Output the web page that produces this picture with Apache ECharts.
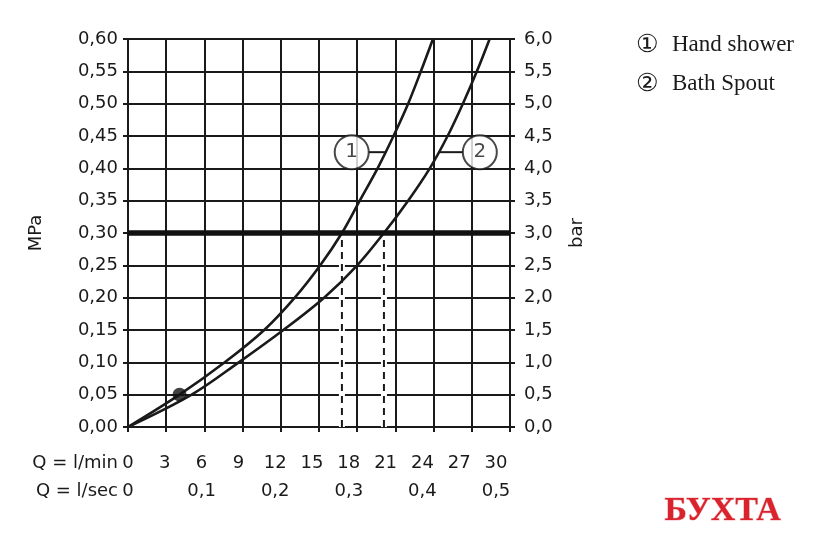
<!DOCTYPE html>
<html>
<head>
<meta charset="utf-8">
<script src="https://cdn.jsdelivr.net/npm/echarts@6/dist/echarts.min.js"></script>
<style>html,body{margin:0;padding:0;background:#fff}#c{width:840px;height:546px}</style>
</head>
<body>
<div id="c"></div>
<script>
// ---- data ----
const pressureMPa = [0, 0.05, 0.10, 0.15, 0.20, 0.25, 0.30, 0.35, 0.40, 0.45, 0.50, 0.55, 0.60];
const handShowerQ = [0, 4.05, 7.6, 10.7, 13.1, 15.1, 16.8, 18.2, 19.6, 20.85, 22.0, 23.0, 23.95];
const bathSpoutQ  = [0, 5.0, 8.7, 12.2, 15.4, 18.0, 20.1, 22.0, 23.7, 25.1, 26.3, 27.4, 28.4];
const operatingPressure = 0.30;
const markedPoint = [4.05, 0.05];
const seriesNames = ['Hand shower', 'Bath Spout'];
const seriesNumbers = ['1', '2'];
const flowLminRange = [0, 30, 3];
const flowLsecRange = [0, 0.5, 0.1];
const mpaRange = [0, 0.6, 0.05];
const barRange = [0, 6, 0.5];

// annotation placement (data coordinates)
const tagPos = [[17.57, 0.425], [27.63, 0.425]];
const leaderLines = [[[18.9, 0.425], [20.2, 0.425]], [[24.4, 0.425], [26.3, 0.425]]];

const FONT = 'DejaVu Sans';
const INK = '#1a1a1a';
const comma = (v, d) => v.toFixed(d).replace('.', ',');

const chart = echarts.init(document.getElementById('c'), null, {renderer: 'canvas'});

const curve = (qs) => qs.map((q, i) => [q, pressureMPa[i]]);
const opIdx = pressureMPa.indexOf(operatingPressure);

const series = [
  {
    type: 'line', name: seriesNames[0], data: curve(handShowerQ), smooth: 0.35,
    showSymbol: false, lineStyle: {color: INK, width: 2.6}, z: 5, silent: true
  },
  {
    type: 'line', name: seriesNames[1], data: curve(bathSpoutQ), smooth: 0.35,
    showSymbol: false, lineStyle: {color: INK, width: 2.6}, z: 5, silent: true
  },
  {
    type: 'line', data: [[flowLminRange[0], operatingPressure], [flowLminRange[1], operatingPressure]],
    showSymbol: false, lineStyle: {color: '#111', width: 5.5}, z: 6, silent: true
  },
  {
    type: 'line', data: [[handShowerQ[opIdx], 0], [handShowerQ[opIdx], operatingPressure]],
    showSymbol: false, lineStyle: {color: '#fff', width: 6}, z: 3, silent: true
  },
  {
    type: 'line', data: [[handShowerQ[opIdx], 0], [handShowerQ[opIdx], operatingPressure]],
    showSymbol: false, lineStyle: {color: INK, width: 2, type: [7, 5]}, z: 4, silent: true
  },
  {
    type: 'line', data: [[bathSpoutQ[opIdx], 0], [bathSpoutQ[opIdx], operatingPressure]],
    showSymbol: false, lineStyle: {color: '#fff', width: 6}, z: 3, silent: true
  },
  {
    type: 'line', data: [[bathSpoutQ[opIdx], 0], [bathSpoutQ[opIdx], operatingPressure]],
    showSymbol: false, lineStyle: {color: INK, width: 2, type: [7, 5]}, z: 4, silent: true
  },
  {
    type: 'scatter', data: [markedPoint], symbolSize: 14,
    itemStyle: {color: '#111'}, z: 7, silent: true
  }
];
leaderLines.forEach(l => series.push({
  type: 'line', data: l, showSymbol: false, lineStyle: {color: INK, width: 2}, z: 7, silent: true
}));
series.push({
  type: 'scatter', data: tagPos.map((p, i) => ({value: p, name: seriesNumbers[i]})),
  symbolSize: 34, z: 8, silent: true,
  itemStyle: {color: '#fff', borderColor: INK, borderWidth: 2},
  label: {show: true, position: 'inside', formatter: p => p.name, fontFamily: FONT, fontSize: 20, color: INK}
});

const hiddenAxisCommon = {
  axisLine: {show: false}, axisTick: {show: false}, splitLine: {show: false},
};

const option = {
  animation: false,
  backgroundColor: '#fff',
  grid: [
    {left: 128, top: 39, width: 382, height: 388},
    {left: 128, top: 453, width: 368, height: 1}
  ],
  xAxis: [
    {
      type: 'value', gridIndex: 0, min: flowLminRange[0], max: flowLminRange[1], interval: flowLminRange[2],
      axisLine: {show: true, lineStyle: {color: INK, width: 2}},
      axisTick: {show: true, length: 5, lineStyle: {color: INK, width: 2}},
      axisLabel: {show: false},
      splitLine: {show: true, lineStyle: {color: INK, width: 2}}
    },
    Object.assign({
      type: 'value', gridIndex: 1, position: 'bottom', min: flowLminRange[0], max: flowLminRange[1], interval: flowLminRange[2],
      axisLabel: {margin: 0, fontFamily: FONT, fontSize: 18, color: INK, formatter: v => String(v)},
      name: 'Q = l/min', nameLocation: 'start', nameGap: 10,
      nameTextStyle: {fontFamily: FONT, fontSize: 18, color: INK, align: 'right', verticalAlign: 'top'}
    }, hiddenAxisCommon),
    Object.assign({
      type: 'value', gridIndex: 1, position: 'bottom', offset: 28, min: flowLsecRange[0], max: flowLsecRange[1], interval: flowLsecRange[2],
      axisLabel: {margin: 0, fontFamily: FONT, fontSize: 18, color: INK, formatter: v => v === 0 ? '0' : comma(v, 1)},
      name: 'Q = l/sec', nameLocation: 'start', nameGap: 10,
      nameTextStyle: {fontFamily: FONT, fontSize: 18, color: INK, align: 'right', verticalAlign: 'top'}
    }, hiddenAxisCommon)
  ],
  yAxis: [
    {
      type: 'value', gridIndex: 0, position: 'left', min: mpaRange[0], max: mpaRange[1], interval: mpaRange[2],
      axisLine: {show: true, lineStyle: {color: INK, width: 2}},
      axisTick: {show: true, length: 5, lineStyle: {color: INK, width: 2}},
      axisLabel: {margin: 10, fontFamily: FONT, fontSize: 18, color: INK, formatter: v => comma(v, 2)},
      splitLine: {show: true, lineStyle: {color: INK, width: 2}},
      name: 'MPa', nameLocation: 'middle', nameGap: 83, nameRotate: 90,
      nameTextStyle: {fontFamily: FONT, fontSize: 18, color: INK}
    },
    {
      type: 'value', gridIndex: 0, position: 'right', min: barRange[0], max: barRange[1], interval: barRange[2],
      axisLine: {show: true, lineStyle: {color: INK, width: 2}},
      axisTick: {show: true, length: 5, lineStyle: {color: INK, width: 2}},
      axisLabel: {margin: 14, fontFamily: FONT, fontSize: 18, color: INK, formatter: v => comma(v, 1)},
      splitLine: {show: false},
      name: 'bar', nameLocation: 'middle', nameGap: 58, nameRotate: 90,
      nameTextStyle: {fontFamily: FONT, fontSize: 18, color: INK}
    },
    {type: 'value', gridIndex: 1, show: false, min: 0, max: 1}
  ],
  graphic: [
    {type: 'text', left: 636, top: 33, style: {text: '\u2460', font: '25px "DejaVu Sans"', fill: INK}},
    {type: 'text', left: 672, top: 33, style: {text: seriesNames[0], font: '23px "Liberation Serif"', fill: INK}},
    {type: 'text', left: 636, top: 72, style: {text: '\u2461', font: '25px "DejaVu Sans"', fill: INK}},
    {type: 'text', left: 672, top: 72, style: {text: seriesNames[1], font: '23px "Liberation Serif"', fill: INK}},
    {type: 'text', left: 664, top: 494, style: {text: 'БУХТА', font: 'bold 34px "Liberation Serif"', fill: '#d9232d', stroke: '#f6b8bb', lineWidth: 1}}
  ],
  series: series
};
chart.setOption(option);
</script>
</body>
</html>
